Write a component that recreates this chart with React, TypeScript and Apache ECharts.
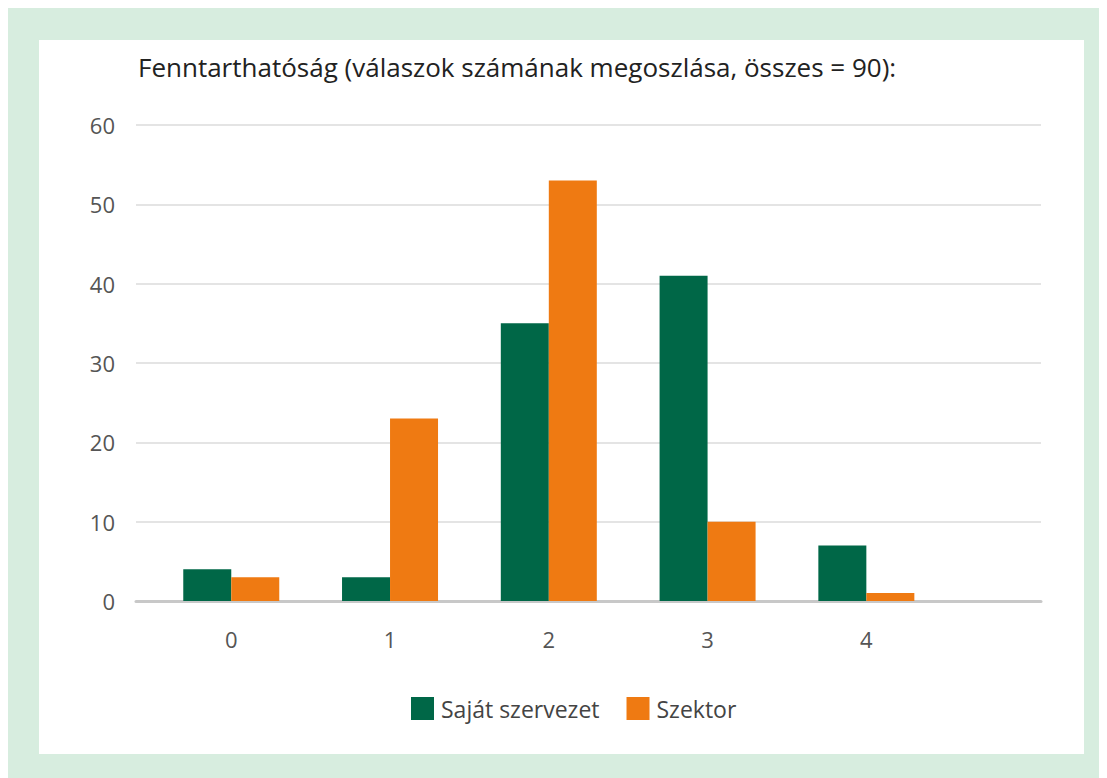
import React, { useEffect, useRef } from "react";
import * as echarts from "echarts";

const categories = [0, 1, 2, 3, 4];
const sajatValues = [4, 3, 35, 41, 7];
const szektorValues = [3, 23, 53, 10, 1];
const seriesNames = ["Saját szervezet", "Szektor"];
const yTicks = [0, 10, 20, 30, 40, 50, 60];
const titleText = "Fenntarthatóság (válaszok számának megoszlása, összes = 90):";

const FONT = "'Open Sans', 'Noto Sans', sans-serif";

export default function App() {
  const ref = useRef<HTMLDivElement>(null);
  useEffect(() => {
    if (!ref.current) return;
    const chart = echarts.init(ref.current, null, { renderer: "svg" });
    chart.setOption({
      animation: false,
      backgroundColor: "#d7eddf",
      graphic: [
        {
          type: "rect",
          z: -10,
          shape: { x: 31, y: 32, width: 1045, height: 714 },
          style: { fill: "#ffffff" },
          silent: true,
        },
      ],
      title: {
        text: titleText,
        left: 125,
        top: 41,
        textStyle: { fontFamily: FONT, fontSize: 26, fontWeight: "normal", color: "#222222" },
      },
      grid: { left: 128, top: 117, width: 905, height: 476 },
      xAxis: {
        type: "value",
        min: -0.6,
        max: 5.1,
        splitLine: { show: false },
        axisTick: { show: false },
        axisLine: { show: true, onZero: false, lineStyle: { color: "#c8c8c8", width: 3 } },
        axisLabel: {
          customValues: categories,
          margin: 27,
          fontFamily: FONT,
          fontSize: 22,
          color: "#555555",
          formatter: (v: number) => String(v),
        },
      },
      yAxis: {
        type: "value",
        min: 0,
        max: 60,
        interval: 10,
        axisLine: { show: false },
        axisTick: { show: false },
        splitLine: { lineStyle: { color: "#e4e4e4", width: 2 } },
        axisLabel: {
          margin: 21,
          fontFamily: FONT,
          fontSize: 22,
          color: "#555555",
          customValues: yTicks,
        },
      },
      legend: {
        left: 398,
        top: 684,
        itemWidth: 23,
        itemHeight: 23,
        itemGap: 27,
        icon: "rect",
        textStyle: { fontFamily: FONT, fontSize: 23, color: "#444444", padding: [0, 0, 0, 2] },
        data: seriesNames,
      },
      series: [
        {
          name: seriesNames[0],
          type: "bar",
          barWidth: 48,
          barGap: "0%",
          itemStyle: { color: "#006747" },
          data: categories.map((c, i) => [c, sajatValues[i]]),
        },
        {
          name: seriesNames[1],
          type: "bar",
          barWidth: 48,
          barGap: "0%",
          itemStyle: { color: "#ef7a12" },
          data: categories.map((c, i) => [c, szektorValues[i]]),
        },
      ],
    });
    return () => chart.dispose();
  }, []);
  return <div ref={ref} style={{ width: 1107, height: 778 }} />;
}
